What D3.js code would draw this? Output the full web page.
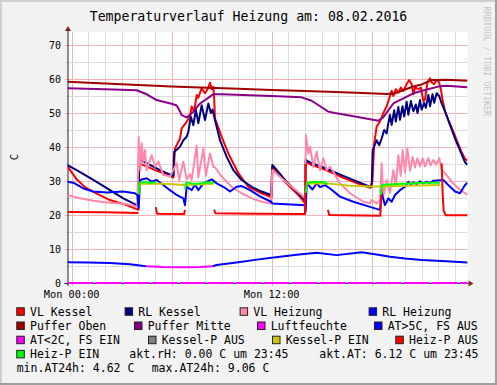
<!DOCTYPE html>
<html>
<head>
<meta charset="utf-8">
<script src="https://cdn.jsdelivr.net/npm/d3@7"></script>
<style>
  html, body { margin: 0; padding: 0; background: #f2f2f2; }
  svg { display: block; }
  text { font-family: "DejaVu Sans Mono", monospace; }
</style>
</head>
<body>
<svg width="497" height="385"></svg>
<script>
// ---- chart texts / ticks ----
const title = "Temperaturverlauf Heizung am: 08.02.2016";
const yLabel = "C";
const watermark = "RRDTOOL / TOBI OETIKER";
const hourSpan = [-0.25, 23.75];
const tempSpan = [0, 73.8];
const xTickHours = [0, 12];
const xTickLabels = ["Mon 00:00", "Mon 12:00"];
const yTickValues = [0, 10, 20, 30, 40, 50, 60, 70];

// ---- series: [hour, value], null = no data ----
const vlKessel = [[-0.25,34.3],[0.3,30.5],[0.8,28.2],[1.3,26.8],[2.3,24.4],[3.3,22.9],[4.0,21.5],[4.05,35.2],[4.5,34.3],[5.0,33.2],[5.5,32.3],[6.0,31.2],[6.1,31.0],[6.2,39.6],[6.5,42.5],[6.6,45.5],[6.9,47.4],[7.1,49],[7.2,51.9],[7.35,50.5],[7.5,55.3],[7.6,54.5],[7.8,57.3],[8.0,55.8],[8.15,57],[8.3,58.9],[8.4,57.0],[8.5,57.7],[8.55,54.3],[8.6,48.4],[9.0,43],[9.4,38.1],[10.0,32.3],[10.6,28.3],[11.4,26.4],[12.0,25.2],[12.05,34],[12.4,32.2],[12.8,29.8],[13.2,27.8],[13.6,25.9],[14.0,23.5],[14.05,35.7],[14.4,34.7],[15.0,33.7],[15.6,32.5],[16.3,30.9],[17.1,29.4],[17.9,28.0],[18.05,30],[18.15,41],[18.3,46],[18.5,47.5],[18.7,50],[18.9,52],[19.1,55],[19.2,56.5],[19.3,55],[19.45,57],[19.6,56],[19.75,57.5],[19.9,56.5],[20.1,58.5],[20.25,59.7],[20.4,58.5],[20.5,55.5],[20.6,57.5],[20.8,57],[20.95,57.5],[21.1,53.5],[21.2,54],[21.35,59],[21.5,60.2],[21.6,59],[21.75,58.5],[21.9,59.7],[22.05,59],[22.15,57],[22.25,54],[22.4,50.5],[22.6,48],[22.9,44.5],[23.1,42],[23.4,38.5],[23.6,36.5],[23.75,36]];
const rlKessel = [[-0.25,34.7],[0.3,33.2],[1.3,30.3],[2.3,27.3],[3.1,24.9],[3.9,22.9],[4.0,22.4],[4.05,36.7],[4.3,35.7],[4.9,34.2],[5.3,33.2],[5.7,32.3],[6.1,31.5],[6.15,38.5],[6.5,40.1],[6.7,42],[6.9,43],[7.0,44.5],[7.15,48.9],[7.3,46.4],[7.45,51],[7.6,47],[7.8,52.3],[8.0,47.9],[8.2,52.8],[8.35,50],[8.45,51],[8.6,47.9],[8.9,42],[9.3,37.1],[9.7,33.2],[10.2,30.3],[10.8,28.3],[11.4,26.9],[11.96,25.9],[12.04,34.7],[12.4,32.7],[12.8,30.3],[13.2,28.3],[13.6,26.4],[13.9,24.9],[14.0,24.2],[14.04,36.2],[14.4,35.2],[15.0,34.2],[15.6,33.0],[16.3,31.5],[17.1,29.9],[17.9,28.3],[18.0,28.2],[18.06,39.1],[18.3,42],[18.45,40.5],[18.6,42.5],[18.75,45],[18.9,44],[19.0,47],[19.1,49.4],[19.2,46.5],[19.35,50.8],[19.45,47.5],[19.6,51.8],[19.7,48],[19.85,52],[19.95,49],[20.1,53.3],[20.2,49.5],[20.35,53.5],[20.5,50.5],[20.65,52.5],[20.75,50],[20.9,53.8],[21.0,51],[21.15,53],[21.25,51.5],[21.4,55.3],[21.5,52],[21.65,55.5],[21.75,53],[21.9,55.8],[22.05,55],[22.2,52.8],[22.4,50.5],[22.7,46.5],[23.0,42.5],[23.3,39],[23.6,35.5],[23.75,34.8]];
const vlHeizung = [[-0.25,25.9],[0.5,24.9],[1.3,24.2],[2.3,23.6],[3.3,23.2],[3.94,22.4],[4.02,43],[4.12,33],[4.2,41],[4.3,35.7],[4.4,39.1],[4.5,33.2],[4.8,37.6],[5.0,34.2],[5.2,35.7],[5.5,31.8],[5.9,31.3],[6.3,35.2],[6.45,30.3],[6.7,35.7],[6.9,30.5],[7.1,32],[7.2,30.3],[7.5,40.4],[7.6,31],[7.9,39.6],[8.05,31.5],[8.3,38.1],[8.5,34.2],[8.6,34],[9.0,31.3],[9.6,28.3],[10.2,26.4],[10.8,24.9],[11.4,23.9],[11.96,23.4],[12.04,33.2],[12.6,30.8],[13.2,28.3],[13.8,25.9],[14.0,24.9],[14.06,43.5],[14.2,38.1],[14.3,40.1],[14.5,34.2],[14.7,38.6],[14.9,33.2],[15.1,36.7],[15.3,33.2],[15.5,34.2],[15.7,32.7],[16.1,29.3],[16.7,26.4],[17.5,23.9],[17.9,23.4],[18.0,24.4],[18.3,23.4],[18.5,24.4],[18.6,35.2],[18.7,25.4],[18.9,30.3],[19.1,26.5],[19.3,33.2],[19.45,28.5],[19.6,37.6],[19.74,31.5],[19.86,39.1],[20.0,32.5],[20.14,39.6],[20.3,33],[20.46,37.1],[20.6,34],[20.74,36.7],[20.9,34.3],[21.06,36.7],[21.2,34.3],[21.4,36.7],[21.54,34.6],[21.7,36.2],[21.86,34.8],[22.06,36.7],[22.2,33.2],[22.4,32.3],[22.8,29.8],[23.2,27.8],[23.6,26.4],[23.75,26]];
const rlHeizung = [[-0.25,29.8],[0.1,29.5],[0.7,27.8],[1.3,26.9],[2.1,26.6],[3.1,26.9],[3.8,26.4],[3.94,25.9],[4.02,22],[4.1,30.3],[4.5,30.8],[4.8,29.8],[5.1,30.3],[5.5,28.8],[5.9,27.3],[6.3,25.9],[6.7,24.9],[6.8,22.9],[6.9,28.3],[7.2,27.3],[7.4,29],[7.6,27.3],[7.9,29.3],[8.4,30.5],[8.7,29.3],[9.1,28.3],[9.5,26.9],[9.9,28.3],[10.2,28.5],[10.7,27.3],[11.3,25.5],[11.96,23.9],[12.04,23.4],[14.0,22.9],[14.04,21],[14.1,29.3],[14.3,28.3],[14.45,27.5],[14.7,29.3],[14.9,28.2],[15.2,28.8],[15.5,27.8],[16.1,25.4],[16.9,23.9],[17.9,22.4],[18.5,21.5],[18.6,26.4],[18.8,22.9],[19.0,24.9],[19.2,23.9],[19.4,25.9],[19.7,27.3],[20.0,28.3],[20.2,29.8],[20.35,29.0],[20.5,29.6],[20.7,29.1],[20.9,29.9],[21.1,29.3],[21.3,29.8],[21.5,29.4],[21.7,30.1],[22.3,30.3],[22.6,28.8],[23.0,26.9],[23.3,26.4],[23.6,28.8],[23.75,29.5]];
const pufferOben = [[-0.25,59.2],[2,58.7],[4,58.2],[6,57.8],[7.7,57.5],[10,57.1],[12,56.8],[14,56.5],[15.8,56.2],[17.5,55.9],[18.9,55.6],[19.4,55.8],[20.5,57.8],[21.0,58.4],[21.6,59.7],[22.5,59.8],[23.75,59.5]];
const pufferMitte = [[-0.25,57.3],[2,57.0],[3.9,56.7],[4.5,55.5],[5.1,53.8],[5.5,53.3],[6.0,52.7],[6.3,52.2],[6.5,50.5],[6.6,49.4],[6.9,48.7],[7.3,50.4],[7.7,52.8],[8.3,54.8],[8.5,55.5],[9,55.5],[12,55],[13.8,54.6],[14.4,53.6],[15.0,51.7],[15.4,50.4],[15.8,50.0],[17,49],[18.4,47.7],[18.7,48.8],[19.3,52.8],[20.5,55.8],[21.1,56.6],[22.1,57.9],[22.5,58.0],[23.75,57.6]];
const luftfeuchte = [[-0.25,0],[23.75,0]];
const atHigh = [[-0.25,6.1],[1,6.0],[2.3,5.9],[3.5,5.5],[4.45,4.95],[4.5,null],[8.4,null],[8.45,4.95],[8.7,5.3],[10,6.1],[11,6.8],[12,7.4],[13.5,8.3],[14.7,8.9],[15.9,8.2],[17.4,9.06],[18.3,8.4],[19.1,7.7],[20,7.2],[21,6.8],[22.5,6.4],[23.75,6.05]];
const atLow = [[4.45,4.95],[5.5,4.7],[6.5,4.65],[7.0,4.62],[7.7,4.7],[8.45,4.95]];
const kesselPAus = [];
const kesselPEin = [[4.05,28.0],[4.1,29.3],[5.5,29.2],[6.3,29.0],[6.8,28.8],[7.5,29.0],[8.5,29.2],[8.55,null],[14.0,null],[14.05,27.5],[14.1,29.3],[15.3,29.3],[16.7,28.6],[17.9,28.4],[18.6,28.4],[20,28.6],[22.1,28.8]];
const heizPAus = [[-0.25,20.9],[2,20.8],[4.0,20.6],[4.02,null],[5.0,null],[5.05,22.3],[5.12,20.4],[6.75,20.3],[6.8,21.5],[6.85,null],[8.5,null],[8.55,21.6],[8.62,20.5],[11,20.4],[14.0,20.3],[14.03,35],[14.1,null],[15.3,null],[15.38,21.5],[15.45,20.0],[18.52,19.8],[18.58,27.4],[18.6,null],[22.1,null],[22.2,35.2],[22.26,26],[22.32,21.2],[22.45,19.9],[23.75,19.9]];
const heizPEin = [[4.02,26],[4.08,29.5],[4.4,29.8],[4.7,29.4],[5.05,29.6],[5.1,null],[6.75,null],[6.8,27.5],[6.88,29.6],[7.2,29.3],[7.6,29.2],[8.2,29.6],[8.55,29.4],[8.6,null],[14.0,null],[14.04,26.5],[14.12,29.5],[14.5,29.8],[15.2,29.6],[15.35,29],[15.4,null],[18.5,null],[18.55,25.9],[18.62,28.8],[19.5,29.1],[20.2,29.3],[21,29.5],[22.1,29.5]];

// ---- current / min / max values for the legend ----
const aktRH = 0.00, aktAT = 6.12, aktTime = "23:45";
const minAT24h = 4.62, maxAT24h = 9.06;

const series = [
  { name: "VL Kessel",      data: vlKessel,    color: "#ff0000" },
  { name: "RL Kessel",      data: rlKessel,    color: "#000080" },
  { name: "VL Heizung",     data: vlHeizung,   color: "#ff88aa" },
  { name: "RL Heizung",     data: rlHeizung,   color: "#0000ff" },
  { name: "Puffer Oben",    data: pufferOben,  color: "#a00000" },
  { name: "Puffer Mitte",   data: pufferMitte, color: "#880088" },
  { name: "Luftfeuchte",    data: luftfeuchte, color: "#ff00ff", dash: "26,2" },
  { name: "AT>5C, FS AUS",  data: atHigh,      color: "#0000ff" },
  { name: "AT<2C, FS EIN",  data: atLow,       color: "#ff00ff" },
  { name: "Kessel-P AUS",   data: kesselPAus,  color: "#808080" },
  { name: "Kessel-P EIN",   data: kesselPEin,  color: "#c8c800" },
  { name: "Heiz-P AUS",     data: heizPAus,    color: "#ff0000" },
  { name: "Heiz-P EIN",     data: heizPEin,    color: "#00ff00" }
];

// legend layout (text start x per row)
const legendRows = [[0,1,2,3],[4,5,6,7],[8,9,10,11],[12]];
const legendX = [[30,138.3,253.3,382.3],[30,147.7,270.7,387.7],[30,161.7,285.7,409],[30]];
const legendBase = 315.5, legendStep = 14.2;

const W = 497, H = 385;
const svg = d3.select("svg");

// frame
svg.append("rect").attr("width", W).attr("height", H).attr("fill", "#f2f2f2");
svg.append("path").attr("d", `M0,${H} V0 H${W}`).attr("fill", "none").attr("stroke", "#cfcfcf").attr("stroke-width", 4);
svg.append("path").attr("d", `M0,${H} H${W} V0`).attr("fill", "none").attr("stroke", "#9e9e9e").attr("stroke-width", 4);

const x = d3.scaleLinear().domain(hourSpan).range([67.5, 467.5]);
const y = d3.scaleLinear().domain(tempSpan).range([283, 32.08]);
const [x0, x1] = x.range(), [yb, yt] = y.range();

svg.append("rect").attr("x", x0).attr("y", yt).attr("width", x1 - x0).attr("height", yb - yt).attr("fill", "#fff");

// grid
const grid = svg.append("g");
grid.selectAll(".vg").data(d3.range(0, 24)).join("line")
  .attr("x1", d => Math.round(x(d)) + 0.5).attr("x2", d => Math.round(x(d)) + 0.5)
  .attr("y1", yt).attr("y2", d => yb + (d % 6 === 0 ? 3 : 2))
  .attr("stroke", d => d % 6 === 0 ? "#f0b4b4" : "#dcdcdc");
grid.selectAll(".hg").data(d3.range(5, 74, 5)).join("line")
  .attr("y1", d => Math.round(y(d)) + 0.5).attr("y2", d => Math.round(y(d)) + 0.5)
  .attr("x1", d => x0 - (d % 10 === 0 ? 3 : 2)).attr("x2", x1)
  .attr("stroke", d => d % 10 === 0 ? "#f0b4b4" : "#dcdcdc");

// axes + arrows
svg.append("line").attr("x1", x0 - 3).attr("x2", x1 + 1).attr("y1", yb + 0.5).attr("y2", yb + 0.5).attr("stroke", "#202020");
svg.append("line").attr("x1", x0 + 0.5).attr("x2", x0 + 0.5).attr("y1", yb + 3).attr("y2", yt - 1).attr("stroke", "#202020");
svg.append("path").attr("d", `M${x0 + 0.5},${yt - 6} l-3,5 h6 z`).attr("fill", "#802020");
svg.append("path").attr("d", `M${x1 + 6},${yb + 0.5} l-5,-3 v6 z`).attr("fill", "#802020");

// lines
const plot = svg.append("g");
svg.append("clipPath").attr("id", "clip").append("rect")
  .attr("x", x0).attr("y", yt).attr("width", x1 - x0).attr("height", yb - yt + 2);
plot.attr("clip-path", "url(#clip)");
const line = d3.line().defined(d => d[1] != null).x(d => x(d[0])).y(d => y(d[1]));
plot.selectAll("path").data(series.filter(s => s.data.length)).join("path")
  .attr("d", s => line(s.data))
  .attr("fill", "none")
  .attr("stroke", s => s.color)
  .attr("stroke-width", 2)
  .attr("stroke-linejoin", "round")
  .attr("stroke-dasharray", s => s.dash || null);

// tick labels
svg.selectAll(".yl").data(yTickValues).join("text")
  .attr("x", 61).attr("y", d => y(d) + 3.5)
  .attr("text-anchor", "end").attr("font-size", 10).attr("fill", "#000")
  .text(d => d);
svg.selectAll(".xl").data(xTickHours).join("text")
  .attr("x", d => x(d)).attr("y", 298)
  .attr("text-anchor", "middle").attr("font-size", 10.3).attr("fill", "#000")
  .text((d, i) => xTickLabels[i]);

// titles
svg.append("text").attr("x", 248.5).attr("y", 21).attr("text-anchor", "middle")
  .attr("font-size", 13.2).attr("fill", "#000").text(title);
svg.append("text").attr("transform", "translate(18.3,157) rotate(-90)")
  .attr("text-anchor", "middle").attr("font-size", 10.5).attr("fill", "#000").text(yLabel);
svg.append("text").attr("transform", "translate(483.5,6.7) rotate(90)")
  .attr("font-size", 8.26).attr("fill", "#c4c4c4").text(watermark);

// legend
const lg = svg.append("g").attr("font-size", 11.5).attr("fill", "#000");
legendRows.forEach((row, r) => {
  const base = legendBase + r * legendStep;
  row.forEach((si, k) => {
    const tx = legendX[r][k];
    lg.append("rect").attr("x", tx - 13.2).attr("y", base - 7.7).attr("width", 7.5).attr("height", 7.5)
      .attr("fill", series[si].color).attr("stroke", "#202020").attr("stroke-width", 1);
    lg.append("text").attr("x", tx).attr("y", base).text(series[si].name);
  });
});
const fmt = d3.format(".2f");
const row4 = legendBase + 3 * legendStep, row5 = legendBase + 4 * legendStep;
lg.append("text").attr("x", 129.3).attr("y", row4).text(`akt.rH: ${fmt(aktRH)} C um ${aktTime}`);
lg.append("text").attr("x", 319.3).attr("y", row4).text(`akt.AT: ${fmt(aktAT)} C um ${aktTime}`);
lg.append("text").attr("x", 16.7).attr("y", row5).text(`min.AT24h: ${fmt(minAT24h)} C`);
lg.append("text").attr("x", 151.7).attr("y", row5).text(`max.AT24h: ${fmt(maxAT24h)} C`);
</script>
</body>
</html>
